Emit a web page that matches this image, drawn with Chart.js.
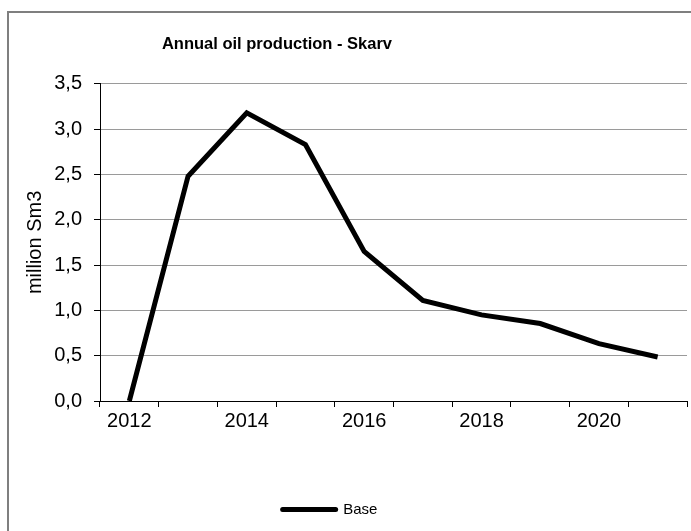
<!DOCTYPE html>
<html>
<head>
<meta charset="utf-8">
<script src="https://cdn.jsdelivr.net/npm/chart.js@4/dist/chart.umd.min.js"></script>
<style>
  html, body { margin: 0; padding: 0; background: #fff; overflow: hidden; }
  #wrap { position: relative; width: 691px; height: 531px; }
  #c { position: absolute; left: 0; top: 0; }
  #frame { position: absolute; left: 7px; top: 11px; width: 720px; height: 560px;
           border: 2px solid #7f7f7f; box-sizing: border-box; pointer-events: none; }
</style>
</head>
<body>
<div id="wrap">
  <canvas id="c" width="691" height="531"></canvas>
  <div id="frame"></div>
</div>
<script>
const years = ['2012','2013','2014','2015','2016','2017','2018','2019','2020','2021'];
const baseValues = [0, 2.48, 3.18, 2.83, 1.65, 1.11, 0.95, 0.855, 0.633, 0.485];
const seriesName = 'Base';
const chartTitle = 'Annual oil production - Skarv';
const yAxisTitle = 'million Sm3';

const shiftPlugin = {
  id: 'shiftBlocks',
  afterLayout(chart) {
    const t = chart.titleBlock;
    if (t) { t.left = 0; t.right = 554; }
    const l = chart.legend;
    if (l) { l.left = 0; l.right = 660; }
  }
};

new Chart(document.getElementById('c'), {
  type: 'line',
  data: {
    labels: years,
    datasets: [{
      label: seriesName,
      data: baseValues,
      borderColor: '#000',
      backgroundColor: '#000',
      borderWidth: 5,
      borderJoinStyle: 'miter',
      borderCapStyle: 'butt',
      pointRadius: 0,
      tension: 0,
      fill: false
    }]
  },
  options: {
    responsive: false,
    devicePixelRatio: 1,
    animation: false,
    layout: { padding: { left: 0, right: 4, top: 0, bottom: 4 } },
    plugins: {
      title: {
        display: true,
        text: chartTitle,
        color: '#000',
        font: { family: "'Liberation Sans Narrow', 'Arial Narrow', 'Liberation Sans', sans-serif", size: 16.5, weight: 'bold', lineHeight: 1.2 },
        padding: { top: 35, bottom: 29 }
      },
      legend: {
        display: true,
        position: 'bottom',
        labels: {
          color: '#000',
          font: { family: "'Liberation Sans', Arial, sans-serif", size: 15 },
          usePointStyle: true,
          pointStyle: 'line',
          pointStyleWidth: 53,
          padding: 10,
          generateLabels(chart) {
            const items = Chart.defaults.plugins.legend.labels.generateLabels(chart);
            items.forEach(i => { i.lineCap = 'round'; i.pointStyle = 'line'; });
            return items;
          }
        }
      },
      tooltip: { enabled: false }
    },
    scales: {
      x: {
        type: 'category',
        offset: true,
        grid: {
          display: true,
          offset: true,
          drawOnChartArea: false,
          drawTicks: true,
          tickLength: 6,
          tickColor: '#000',
          tickWidth: 1
        },
        border: { display: true, color: '#000', width: 1 },
        ticks: {
          autoSkip: false,
          maxRotation: 0,
          minRotation: 0,
          padding: 2,
          color: '#000',
          font: { family: "'Liberation Sans', Arial, sans-serif", size: 20 },
          callback(value, index) { return index % 2 === 0 ? this.getLabelForValue(value) : ''; }
        },
        afterFit(scale) { scale.height = 91; }
      },
      y: {
        min: 0,
        max: 3.5,
        grid: {
          color: '#9a9a9a',
          lineWidth: 1,
          borderDash: [2, 1],
          tickBorderDash: [],
          tickColor: '#000',
          tickLength: 6,
          drawTicks: true
        },
        border: { display: true, color: '#000', width: 1 },
        ticks: {
          stepSize: 0.5,
          padding: 12,
          color: '#000',
          font: { family: "'Liberation Sans', Arial, sans-serif", size: 20 },
          callback(v) { return v.toFixed(1).replace('.', ','); }
        },
        title: {
          display: true,
          text: yAxisTitle,
          color: '#000',
          font: { family: "'Liberation Sans', Arial, sans-serif", size: 20 },
          padding: { top: 23, bottom: 0 }
        },
        afterFit(scale) { scale.width = 100; }
      }
    }
  },
  plugins: [shiftPlugin]
});
</script>
</body>
</html>
